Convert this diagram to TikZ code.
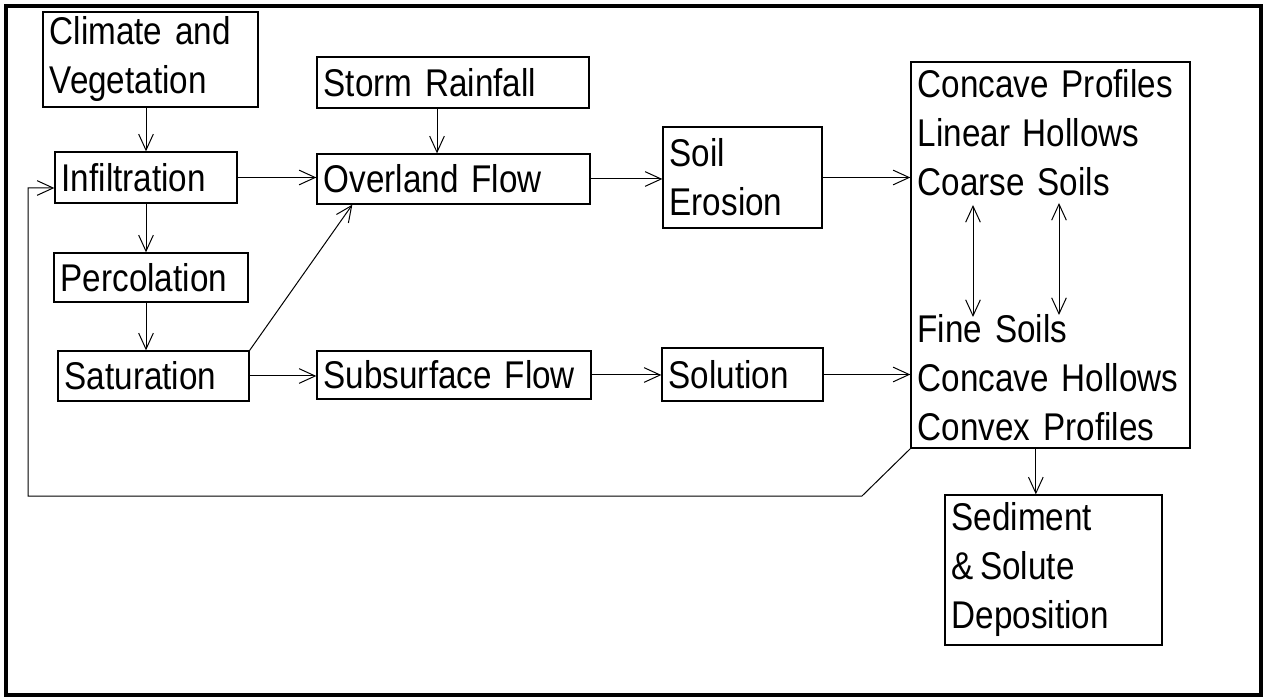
\documentclass[tikz,border=0pt]{standalone}
\usepackage{fontspec}
\newfontfamily\boxfont{Liberation Sans}[FakeStretch=0.86]
\usetikzlibrary{arrows.meta}
\newcommand\boxsetup{\boxfont\fontsize{29pt}{36.75pt}\selectfont\fontdimen2\font=4.5pt\relax\hyphenpenalty=10000\relax}

\tikzset{every picture/.style={line width=0.75pt}}
\tikzset{
  blk/.style={draw, line width=1pt, rectangle, inner xsep=5pt, inner ysep=0pt, align=left,
    font=\boxsetup},
  arr/.style={-{Straight Barb[length=12pt,width=11pt]}},
  dbl/.style={{Straight Barb[length=12pt,width=11pt]}-{Straight Barb[length=12pt,width=11pt]}}
}

\begin{document}
\begin{tikzpicture}[x=0.75pt,y=0.75pt,yscale=-1,xscale=1]
        \useasboundingbox (0,0) rectangle (1267,698);
        %Frame
        \draw [line width=3pt] (6,6) rectangle (1261,695);

        %Boxes
        \node [blk, text width=151.25pt, minimum height=71.25pt] (clim) at (150.5,59.5) {Climate and\\Vegetation};
        \node [blk, text width=194pt, minimum height=38.25pt] (storm) at (453,82.5) {Storm Rainfall};
        \node [blk, text width=126.5pt, minimum height=38.25pt] (infil) at (146,177.5) {Infiltration};
        \node [blk, text width=194.75pt, minimum height=37.5pt] (over) at (453.5,179) {Overland Flow};
        \node [blk, text width=109.25pt, minimum height=75.75pt] (soil) at (742.5,177.5) {Soil\\Erosion};
        \node [blk, text width=135.5pt, minimum height=36.75pt] (perc) at (151,277.5) {Percolation};
        \node [blk, text width=133.25pt, minimum height=37.5pt] (satur) at (153.5,376) {Saturation};
        \node [blk, text width=195.5pt, minimum height=36pt] (subs) at (454,375) {Subsurface Flow};
        \node [blk, text width=110.75pt, minimum height=39.75pt] (solut) at (742.5,374.5) {Solution};
        \node [blk, text width=199.25pt, minimum height=289.5pt] (forms) at (1050.5,255)
          {Concave Profiles\\Linear Hollows\\Coarse Soils\\[73.5pt]Fine Soils\\Concave Hollows\\Convex Profiles};
        \node [blk, text width=152.75pt, minimum height=112.5pt] (sedim) at (1053.5,570) {Sediment\\\&\,Solute\\Deposition};

        %Arrows
        \draw [arr] (infil.north |- clim.south) -- (infil.north);
        \draw [arr] ([xshift=-12pt]storm.south) -- ([xshift=-12pt]storm.south |- over.north);
        \draw [arr] (infil.east) -- (infil.east -| over.west);
        \draw [arr] (over.east) -- (over.east -| soil.west);
        \draw [arr] (soil.east) -- (soil.east -| forms.west);
        \draw [arr] (infil.south) -- (infil.south |- perc.north);
        \draw [arr] (infil.south |- perc.south) -- (infil.south |- satur.north);
        \draw [arr] (satur.east) -- (satur.east -| subs.west);
        \draw [arr] (satur.north east) -- ([xshift=27pt]over.south west);
        \draw [arr] (subs.east) -- (subs.east -| solut.west);
        \draw [arr] (solut.east) -- (solut.east -| forms.west);
        \draw [arr] ([xshift=-11pt]forms.south) -- ([xshift=-11pt]forms.south |- sedim.north);

        %Two way links inside the right box
        \coordinate (cs1) at (973,205);
        \coordinate (fs1) at (973,317);
        \coordinate (cs2) at (1059,203);
        \coordinate (fs2) at (1059,315);
        \draw [dbl] (cs1) -- (fs1);
        \draw [dbl] (cs2) -- (fs2);

        %Feedback to infiltration
        \coordinate (bend) at (862,496);
        \draw [arr] (forms.south west) -- (bend) -- (28,496) -- (28,188) -- (infil.west |- 0,188);
\end{tikzpicture}
\end{document}
